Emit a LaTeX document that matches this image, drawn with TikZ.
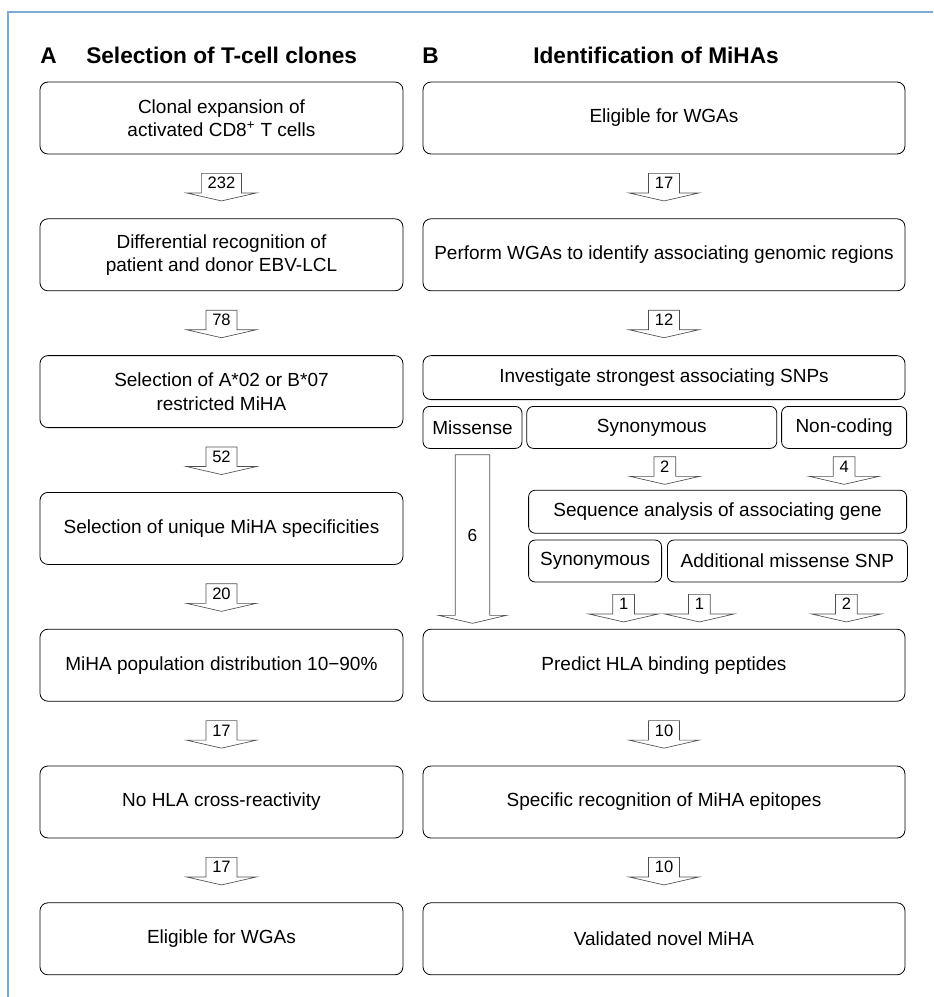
\documentclass[tikz,border=0pt]{standalone}
\usepackage{fontspec}
\setmainfont{Liberation Sans}
\usetikzlibrary{positioning,calc}
\definecolor{framecol}{RGB}{125,170,210}
\definecolor{arrowcol}{RGB}{80,80,80}

\newcommand{\cntarrow}[2][26.25pt]{%
  \draw[cntline] (#2.north west) -- (#2.north east) -- (#2.south east)
    -- ($(#2.south)+(#1,0)$) -- ($(#2.south)+(0,-6pt)$)
    -- ($(#2.south)+(-#1,0)$) -- (#2.south west) -- cycle;}

\begin{document}
\begin{tikzpicture}[
    box/.style={draw, rounded corners=6pt, line width=0.6pt, align=center,
      font=\fontsize{14.25}{17.5}\selectfont, inner sep=2pt},
    lbox/.style={box, minimum width=272.25pt, minimum height=54pt},
    rbox/.style={box, minimum width=361.5pt, minimum height=54pt},
    sbox/.style={box, minimum height=31.5pt, rounded corners=5pt},
    cnt/.style={font=\fontsize{12.4}{14}\selectfont, inner xsep=4.5pt, inner ysep=0pt, minimum height=14.25pt},
    cntline/.style={draw=arrowcol, line width=0.5pt},
    head/.style={anchor=base west, font=\fontsize{17}{20}\selectfont\bfseries, inner sep=0pt}
  ]
  \useasboundingbox (0,0) rectangle (699.75pt,-747.75pt);
  \draw[framecol, line width=1.5pt] (6pt,-747.75pt) -- (6pt,-9pt) -- (699.75pt,-9pt);

  \node[head] (hA) at (30pt,-47.25pt) {A};
  \node[head] (tA) at (64.5pt,-47.25pt) {Selection of T-cell clones};
  \node[head] (hB) at (316.5pt,-47.25pt) {B};
  \node[head] (tB) at (399.75pt,-47.25pt) {Identification of MiHAs};

  \node[lbox] (L1) at (166.1pt,-88.5pt) {Clonal expansion of\\activated CD8\textsuperscript{+} T cells};
  \node[lbox, below=48pt of L1] (L2) {Differential recognition of\\patient and donor EBV-LCL};
  \node[lbox, below=48pt of L2] (L3) {Selection of A*02 or B*07\\restricted MiHA};
  \node[lbox, below=48pt of L3] (L4) {Selection of unique MiHA specificities};
  \node[lbox, below=48pt of L4] (L5) {MiHA population distribution 10−90\%};
  \node[lbox, below=48pt of L5] (L6) {No HLA cross-reactivity};
  \node[lbox, below=48pt of L6] (L7) {Eligible for WGAs};

  \node[cnt, below=14.25pt of L1] (cL1) {232};
  \node[cnt, below=14.25pt of L2] (cL2) {78};
  \node[cnt, below=14.25pt of L3] (cL3) {52};
  \node[cnt, below=14.25pt of L4] (cL4) {20};
  \node[cnt, below=14.25pt of L5] (cL5) {17};
  \node[cnt, below=14.25pt of L6] (cL6) {17};
  \foreach \c in {cL1,cL2,cL3,cL4,cL5,cL6} {\cntarrow{\c}}

  \node[rbox] (R1) at (498pt,-88.5pt) {Eligible for WGAs};
  \node[rbox, below=48pt of R1] (R2) {Perform WGAs to identify associating genomic regions};
  \node[rbox, below=48pt of R2, minimum height=33pt] (R3) {Investigate strongest associating SNPs};
  \node[sbox, minimum width=74.25pt, below right=4.5pt and 0pt of R3.south west] (mis) {Missense};
  \node[sbox, minimum width=187.5pt, right=3pt of mis] (syn) {Synonymous};
  \node[sbox, minimum width=93.75pt, right=3pt of syn] (nonc) {Non-coding};
  \node[sbox, minimum width=283.5pt, minimum height=32.25pt, anchor=north east] (seq)
    at ($(nonc.south east)+(0,-30.75pt)$) {Sequence analysis of associating gene};
  \node[sbox, minimum width=99.75pt, below right=4.5pt and 0pt of seq.south west] (syn2) {Synonymous};
  \node[sbox, minimum width=180pt, right=3.75pt of syn2] (addl) {Additional missense SNP};
  \node[rbox] (R5) at (R1 |- L5) {Predict HLA binding peptides};
  \node[rbox, below=48pt of R5] (R6) {Specific recognition of MiHA epitopes};
  \node[rbox, below=48pt of R6] (R7) {Validated novel MiHA};

  \node[cnt, below=14.25pt of R1] (cR1) {17};
  \node[cnt, below=14.25pt of R2] (cR2) {12};
  \node[cnt, below=6pt of syn, xshift=9.75pt] (cSyn) {2};
  \node[cnt, below=6pt of nonc] (cNon) {4};
  \node[cnt, below=9pt of syn2, xshift=21.4pt] (cSyn2) {1};
  \node[cnt, below=9pt of addl, xshift=-66pt] (cAdd1) {1};
  \node[cnt, below=9pt of addl, xshift=44.25pt] (cAdd2) {2};
  \node[cnt, below=14.25pt of R5] (cR5) {10};
  \node[cnt, below=14.25pt of R6] (cR6) {10};
  \foreach \c in {cR1,cR2,cSyn,cNon,cSyn2,cAdd1,cAdd2,cR5,cR6} {\cntarrow{\c}}

  \node[cnt, below=4.5pt of mis, minimum width=25.5pt, minimum height=120pt, inner xsep=0pt,
    font=\fontsize{13}{15}\selectfont] (cMis) {6};
  \cntarrow[25.5pt]{cMis}
\end{tikzpicture}
\end{document}
